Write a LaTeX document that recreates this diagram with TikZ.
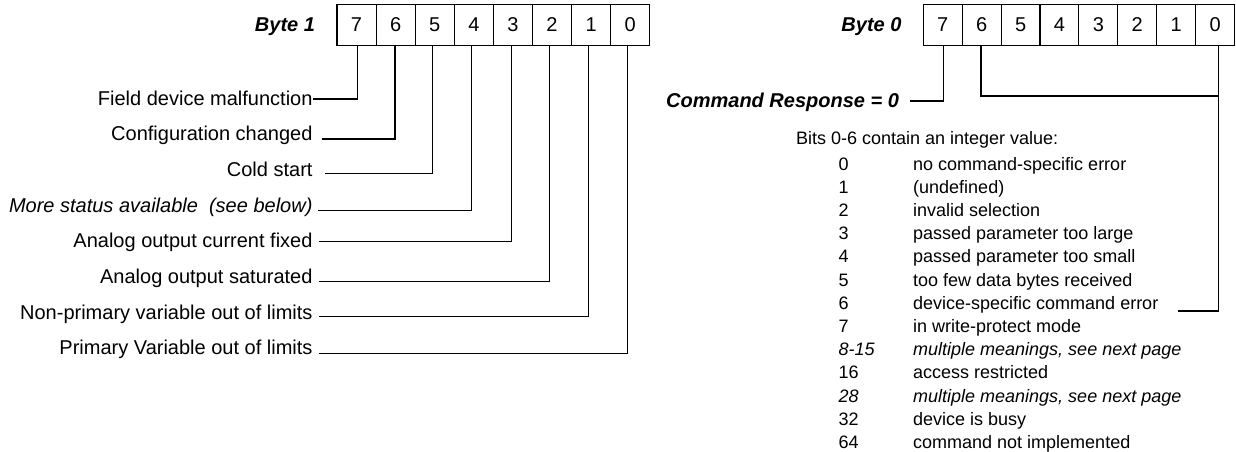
\documentclass[tikz,border=0pt]{standalone}
\usepackage{fontspec}
\setmainfont{Liberation Sans}
\usetikzlibrary{calc}
\begin{document}
\begin{tikzpicture}[x=1pt,y=-1pt,line width=1.1pt,
  cell/.style={draw,line width=1.1pt,minimum width=39.1pt,minimum height=41pt,inner sep=0pt,outer sep=0pt,anchor=north west,font=\fontsize{20}{24}\selectfont},
  cellr/.style={cell,minimum width=38.9pt},
  lab/.style={anchor=base east,inner sep=0pt,outer sep=0pt,font=\fontsize{20}{24}\selectfont},
  bytelab/.style={anchor=base east,inner sep=0pt,outer sep=0pt,font=\fontsize{20}{24}\selectfont\bfseries\itshape},
  lst/.style={anchor=base west,inner sep=0pt,outer sep=0pt,font=\fontsize{18}{21}\selectfont},
  wire/.style={draw=black,line width=1.1pt}]
\useasboundingbox (0,0) rectangle (1236,452);
% bit boxes
\foreach \b [count=\i from 0] in {7,6,5,4,3,2,1,0}{
  \node[cell] (L\b) at ({337+\i*39.1},4.5) {\b};
  \node[cellr] (R\b) at ({923.3+\i*38.9},4.5) {\b};
}
\node[bytelab] (byte1) at (315,32) {Byte 1};
\node[bytelab] (byte0) at (901.5,32) {Byte 0};
% left labels
\node[lab] (f0) at (312.5,105.0) {Field device malfunction};
\node[lab] (f1) at (312.5,140.7) {Configuration changed};
\node[lab] (f2) at (312.5,176.4) {Cold start};
\node[lab] (f3) at (312.5,212.1) {\itshape More status available\ \ (see below)};
\node[lab] (f4) at (312.5,247.8) {Analog output current fixed};
\node[lab] (f5) at (312.5,283.5) {Analog output saturated};
\node[lab] (f6) at (312.5,319.2) {Non-primary variable out of limits};
\node[lab] (f7) at (312.5,354.9) {Primary Variable out of limits};
% left connectors
\draw[wire] ($(f0.base east)+(0.3,-6)$) -| ([xshift=0.95pt]L7.south);
\draw[wire] ($(f1.base east)+(9.2,-1.7)$) -| ([xshift=-0.65pt]L6.south);
\draw[wire] ($(f2.base east)+(12.5,-3.1)$) -| ([xshift=-2.45pt]L5.south);
\draw[wire] ($(f3.base east)+(5.8,-1.7)$) -| ([xshift=-2.55pt]L4.south);
\draw[wire] ($(f4.base east)+(6.8,-6.1)$) -| ([xshift=-1.25pt]L3.south);
\draw[wire] ($(f5.base east)+(6.8,-1.8)$) -| ([xshift=-2.75pt]L2.south);
\draw[wire] ($(f6.base east)+(6.8,-2.5)$) -| ([xshift=-2.65pt]L1.south);
\draw[wire] ($(f7.base east)+(6.8,-1.6)$) -| ([xshift=-2.65pt]L0.south);
% right side
\node[bytelab] (cr) at (899,107) {Command Response = 0};
\draw[wire] ($(cr.base east)+(11,-6)$) -| ([xshift=0.55pt]R7.south);
\node[lst] (bits) at (796,144) {Bits 0-6 contain an integer value:};
\foreach \n/\d [count=\k from 0] in {
  0/{no command-specific error},
  1/{(undefined)},
  2/{invalid selection},
  3/{passed parameter too large},
  4/{passed parameter too small},
  5/{too few data bytes received},
  6/{device-specific command error},
  7/{in write-protect mode},
  {\itshape 8-15}/{\itshape multiple meanings, see next page},
  16/{access restricted},
  {\itshape 28}/{\itshape multiple meanings, see next page},
  32/{device is busy},
  64/{command not implemented}}{
  \node[lst] (n\k) at (838.5,{170+23.2*\k}) {\n};
  \node[lst] (d\k) at (913.2,{170+23.2*\k}) {\d};
}
\coordinate (j60) at (1218.3,96);
\draw[wire] ([xshift=-0.65pt]R6.south) |- (j60) -- (j60 |- R0.south);
\draw[wire] (j60) |- ($(d6.base east)+(20,1.8)$);
\end{tikzpicture}
\end{document}
